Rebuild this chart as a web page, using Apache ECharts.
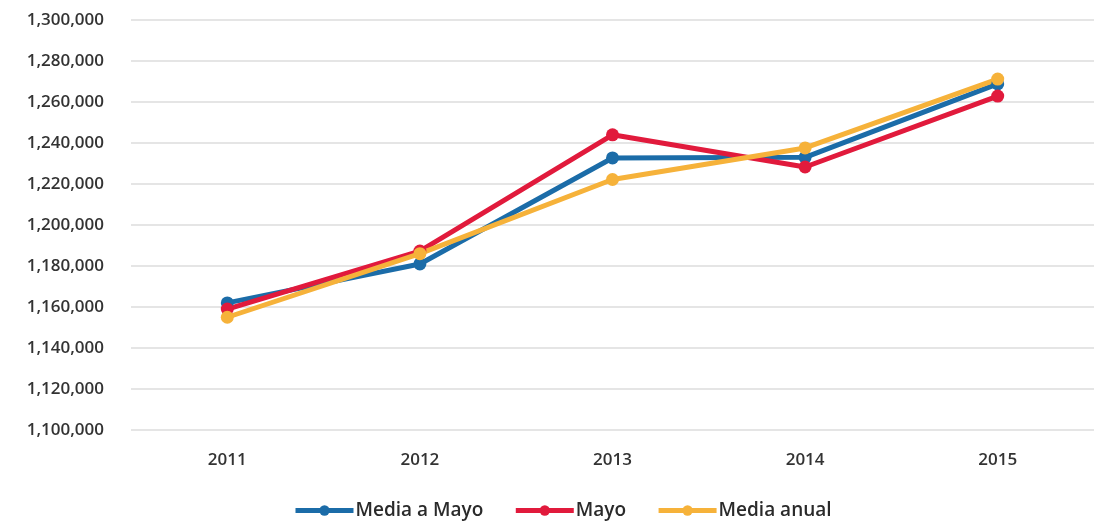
<!DOCTYPE html>
<html>
<head>
<meta charset="utf-8">
<script src="https://cdn.jsdelivr.net/npm/echarts@6/dist/echarts.min.js"></script>
<style>
  html, body { margin: 0; padding: 0; background: #fff; }
  #chart { width: 1094px; height: 521px; }
</style>
</head>
<body>
<div id="chart"></div>
<script>
var years = ['2011', '2012', '2013', '2014', '2015'];
var mediaAMayo = [1162000, 1181000, 1232700, 1233000, 1268800];
var mayo = [1159000, 1187300, 1244000, 1228300, 1262900];
var mediaAnual = [1155000, 1186000, 1222200, 1237600, 1271200];

var chartDom = document.getElementById('chart');
var myChart = echarts.init(chartDom);

var mkSeries = function (name, data, color) {
    return {
        name: name,
        type: 'line',
        data: data,
        symbol: 'circle',
        symbolSize: 13,
        lineStyle: { width: 5, color: color },
        itemStyle: { color: color },
        emphasis: { disabled: true }
    };
};

var option = {
    animation: false,
    textStyle: { fontFamily: 'Open Sans' },
    color: ['#1b6ca8', '#e11a3c', '#f6b23a'],
    grid: { left: 131, top: 20, width: 968, height: 410, containLabel: false },
    legend: {
        bottom: -4,
        left: 288,
        itemWidth: 58,
        itemHeight: 13,
        itemGap: 30,
        lineStyle: { width: 5 },
        textStyle: { fontSize: 19, color: '#2a2a2a', fontWeight: 600, padding: [0, 0, 0, -3] },
        data: ['Media a Mayo', 'Mayo', 'Media anual']
    },
    xAxis: {
        type: 'category',
        data: years,
        axisLine: { show: false },
        axisTick: { show: false },
        axisLabel: { fontSize: 17, color: '#333', fontWeight: 600, margin: 22 }
    },
    yAxis: {
        type: 'value',
        min: 1100000,
        max: 1300000,
        interval: 20000,
        axisLabel: {
            fontSize: 17,
            color: '#333',
            fontWeight: 600,
            margin: 27,
            formatter: function (v) { return v.toLocaleString('en-US'); }
        },
        splitLine: { lineStyle: { color: '#dcdcdc', width: 1.5 } }
    },
    series: [
        mkSeries('Media a Mayo', mediaAMayo, '#1b6ca8'),
        mkSeries('Mayo', mayo, '#e11a3c'),
        mkSeries('Media anual', mediaAnual, '#f6b23a')
    ]
};

option && myChart.setOption(option);
</script>
</body>
</html>
